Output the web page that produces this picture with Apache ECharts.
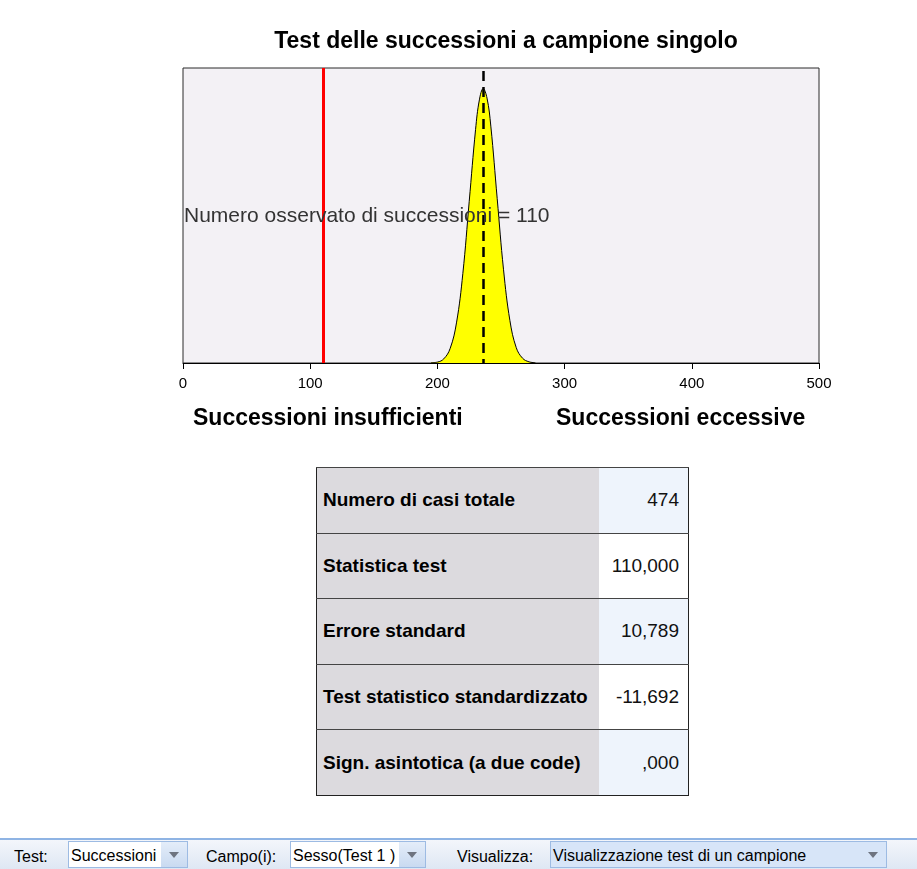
<!DOCTYPE html>
<html>
<head>
<meta charset="utf-8">
<script src="https://cdn.jsdelivr.net/npm/echarts@6/dist/echarts.min.js"></script>
<style>
  html, body { margin: 0; padding: 0; background: #fff; }
  #wrap { position: relative; width: 917px; height: 869px; overflow: hidden; font-family: "Liberation Sans", Arial, sans-serif; }
  #chart { position: absolute; left: 0; top: 0; width: 917px; height: 450px; }
  #tbl { position: absolute; left: 316px; top: 467px; border-collapse: collapse; border: 1px solid #222; }
  #tbl td { height: 64.6px; border-top: 1px solid #444; padding: 0; font-size: 19px; color: #000; }
  #tbl td.lab { width: 276px; background: #DCDADE; font-weight: bold; padding-left: 6px; }
  #tbl td.val { width: 80px; text-align: right; padding-right: 9px; color: #111; }
  #tbl tr:nth-child(odd) td.val { background: #EEF4FC; }
  #tbl tr:nth-child(even) td.val { background: #FFFFFF; }
  #bar { position: absolute; left: 0; top: 838px; width: 917px; height: 31px; border-top: 2px solid #8FB4E4;
         background: linear-gradient(#F3F6FB, #DDE6F3); font-size: 16px; color: #000; }
  .lb { position: absolute; top: 8px; }
  .dd { position: absolute; top: 1px; height: 27px; border: 1px solid #9DBBE3; background: #fff; box-sizing: border-box; }
  .dd span { position: absolute; left: 2px; top: 5px; white-space: nowrap; }
  .dd i { position: absolute; right: 0; top: 0; width: 26px; height: 25px; background: linear-gradient(#E4EDF9, #C9DAF1); }
  .dd i:after { content: ""; position: absolute; left: 8px; top: 10px; border-left: 5px solid transparent; border-right: 5px solid transparent; border-top: 6px solid #6E7480; }
</style>
</head>
<body>
<div id="wrap">
  <div id="chart"></div>
  <table id="tbl"></table>
  <div id="bar"></div>
</div>
<script>
// curve (x = runs, y = relative height)
var curveX = [195, 200, 205, 210, 215, 220, 225, 230, 233, 236, 239, 242, 247, 252, 257, 262, 267, 272, 277];
var curveY = [0.001, 0.003, 0.014, 0.049, 0.136, 0.303, 0.547, 0.791, 0.892, 0.93, 0.898, 0.803, 0.558, 0.316, 0.144, 0.052, 0.016, 0.004, 0.001];
var observedRuns = 110;
var expectedRuns = 236.14;
var xTicks = [0, 100, 200, 300, 400, 500];

var rowLabels = ['Numero di casi totale', 'Statistica test', 'Errore standard', 'Test statistico standardizzato', 'Sign. asintotica (a due code)'];
var rowValues = ['474', '110,000', '10,789', '-11,692', ',000'];

var toolbarLabels = ['Test:', 'Campo(i):', 'Visualizza:'];
var toolbarValues = ['Successioni', 'Sesso(Test 1 )', 'Visualizzazione test di un campione'];

var curve = curveX.map(function (x, i) { return [x, curveY[i]]; });

var chartDom = document.getElementById('chart');
var myChart = echarts.init(chartDom);
var option;

option = {
  animation: false,
  textStyle: { fontFamily: '"Liberation Sans", Arial, sans-serif' },
  title: {
    text: 'Test delle successioni a campione singolo',
    left: 501,
    top: 25,
    textAlign: 'center',
    textStyle: { fontSize: 23, fontWeight: 'bold', color: '#000' }
  },
  grid: {
    left: 183,
    right: 98,
    top: 68,
    height: 295,
    show: true,
    backgroundColor: '#F3F1F5',
    borderColor: '#2a2a2a',
    borderWidth: 1
  },
  xAxis: {
    type: 'value',
    min: xTicks[0],
    max: xTicks[xTicks.length - 1],
    interval: 100,
    axisLine: { lineStyle: { color: '#000', width: 1 } },
    axisTick: { show: true, length: 6, lineStyle: { color: '#000' } },
    axisLabel: { fontSize: 15, color: '#000', margin: 13 },
    splitLine: { show: false }
  },
  yAxis: {
    type: 'value',
    min: 0,
    max: 1,
    show: false
  },
  series: [
    {
      type: 'line',
      data: curve,
      smooth: 0.4,
      symbol: 'none',
      lineStyle: { color: '#000', width: 1 },
      areaStyle: { color: '#FFFF00', opacity: 1 },
      z: 2,
      markLine: {
        silent: true,
        symbol: 'none',
        label: { show: false },
        data: [
          { xAxis: observedRuns, lineStyle: { color: '#FF0000', width: 3, type: 'solid' } },
          { xAxis: expectedRuns, lineStyle: { color: '#000', width: 2.5, type: [10, 6], dashOffset: 6 } }
        ]
      }
    }
  ],
  graphic: [
    {
      type: 'text',
      left: 184,
      top: 206,
      z: 10,
      style: { text: 'Numero osservato di successioni = ' + observedRuns, fontSize: 21, fill: '#333', fontFamily: '"Liberation Sans", Arial, sans-serif' }
    },
    {
      type: 'text',
      left: 193,
      top: 407,
      style: { text: 'Successioni insufficienti', fontSize: 23, fontWeight: 'bold', fill: '#000', fontFamily: '"Liberation Sans", Arial, sans-serif' }
    },
    {
      type: 'text',
      left: 556,
      top: 407,
      style: { text: 'Successioni eccessive', fontSize: 23, fontWeight: 'bold', fill: '#000', fontFamily: '"Liberation Sans", Arial, sans-serif' }
    }
  ]
};

myChart.setOption(option);

// tabella statistiche
var tbl = document.getElementById('tbl');
rowLabels.forEach(function (lab, i) {
  var tr = document.createElement('tr');
  var a = document.createElement('td');
  a.className = 'lab';
  a.textContent = lab;
  var b = document.createElement('td');
  b.className = 'val';
  b.textContent = rowValues[i];
  tr.appendChild(a);
  tr.appendChild(b);
  tbl.appendChild(tr);
});

// barra inferiore
var bar = document.getElementById('bar');
var labLeft = [14, 206, 457];
var ddLeft = [68, 290, 550];
var ddWidth = [120, 136, 337];
toolbarLabels.forEach(function (t, i) {
  var l = document.createElement('div');
  l.className = 'lb';
  l.style.left = labLeft[i] + 'px';
  l.textContent = t;
  bar.appendChild(l);
  var d = document.createElement('div');
  d.className = 'dd';
  d.style.left = ddLeft[i] + 'px';
  d.style.width = ddWidth[i] + 'px';
  if (i === 2) d.style.background = '#D7E5F8';
  var s = document.createElement('span');
  s.textContent = toolbarValues[i];
  var ic = document.createElement('i');
  if (i === 2) ic.style.background = 'transparent';
  d.appendChild(s);
  d.appendChild(ic);
  bar.appendChild(d);
});

window.onresize = () => {
  myChart.resize();
}
</script>
</body>
</html>
